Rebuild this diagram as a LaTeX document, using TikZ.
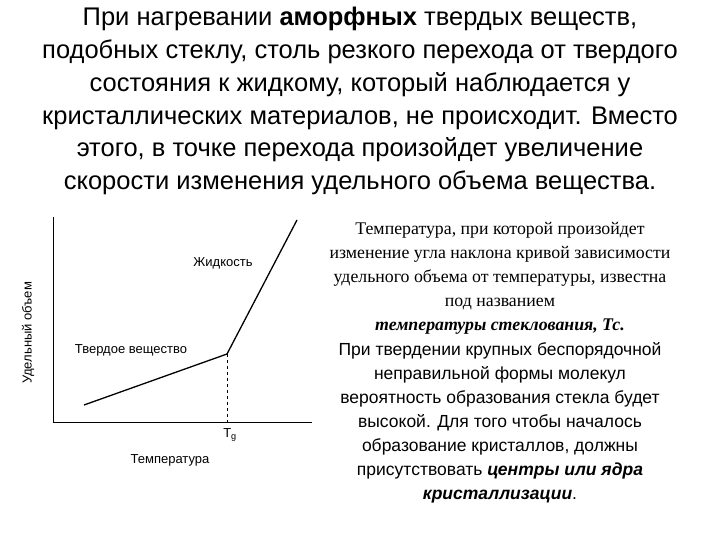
\documentclass[tikz,border=0pt]{standalone}
\usepackage{fontspec}
\setmainfont{Liberation Serif}
\newfontfamily\arial{Liberation Sans}
\begin{document}
\begin{tikzpicture}[x=1pt,y=-1pt,
  lbl/.style={font=\arial\fontsize{13}{15}\selectfont, inner sep=0},
  ln/.style={line width=1.3pt}]
\useasboundingbox (0,0) rectangle (720,540);
\node[font=\arial\fontsize{25.5}{32.8}\selectfont, align=center, anchor=north, inner sep=0] (title) at (360,7)
{При нагревании \textbf{аморфных} твердых веществ,\\
подобных стеклу, столь резкого перехода от твердого\\
состояния к жидкому, который наблюдается у\\
кристаллических материалов, не происходит. Вместо\\
этого, в точке перехода произойдет увеличение\\
скорости изменения удельного объема вещества.};
\coordinate (o) at (53,422);
\coordinate (yt) at (53,217);
\coordinate (xr) at (312,422);
\coordinate (s) at (84,405);
\coordinate (k) at (227,354);
\coordinate (e) at (297,220);
\coordinate (kb) at (227,422);
\draw[line width=0.9pt] (yt) -- (o) -- (xr);
\draw[ln] (s) -- (k) -- (e);
\draw[dashed, line width=0.7pt] (k) -- (kb);
\node[lbl] (tg) at (230,435) {T\textsubscript{g}};
\node[lbl] (xl) at (170,460) {Температура};
\node[lbl, rotate=90] (yl) at (28,333) {Удельный объем};
\node[lbl] (liq) at (223,263) {Жидкость};
\node[lbl] (sol) at (131,350) {Твердое вещество};
\node[font=\fontsize{17.8}{24}\selectfont, align=center, anchor=north, inner sep=0] (t1) at (500,222)
{Температура, при которой произойдет\\
изменение угла наклона кривой зависимости\\
удельного объема от температуры, известна\\
под названием\\
\textbf{\textit{температуры стеклования, Тс.}}};
\node[font=\arial\fontsize{17.5}{24}\selectfont, align=center, anchor=north, inner sep=0] (t2) at (500,342)
{При твердении крупных беспорядочной\\
неправильной формы молекул\\
вероятность образования стекла будет\\
высокой. Для того чтобы началось\\
образование кристаллов, должны\\
присутствовать \textbf{\textit{центры или ядра}}\\
\textbf{\textit{кристаллизации}}.};
\end{tikzpicture}
\end{document}
